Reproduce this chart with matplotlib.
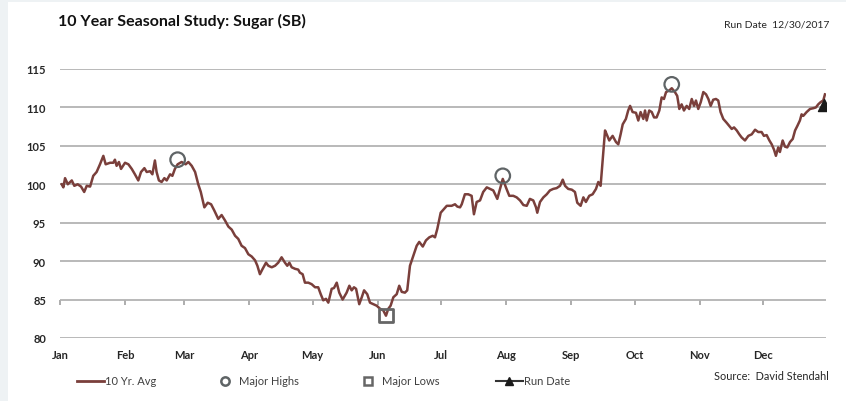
import matplotlib
matplotlib.use("Agg")
import matplotlib.pyplot as plt
from matplotlib.lines import Line2D
from matplotlib.patches import Rectangle

plt.rcParams["font.family"] = ["Lato", "DejaVu Sans"]

# 10 year seasonal average for sugar, day of year vs index value
day = [0.8, 1.6, 2.4, 3.7, 5.6, 6.8, 8.4, 10.0, 11.5, 12.7, 14.3, 15.8, 17.4, 19.0, 20.6,
       21.7, 23.8, 25.3, 26.1, 26.9, 28.0, 29.0, 30.9, 32.5, 34.1, 35.6, 37.2, 38.5, 40.1,
       41.2, 42.8, 43.9, 45.1, 45.9, 47.0, 48.3, 49.6, 50.7, 52.3, 53.4, 54.6, 55.9, 57.8,
       59.7, 61.0, 62.6, 64.2, 65.7, 66.9, 68.6, 70.2, 71.8, 73.3, 75.2, 76.8, 78.4, 80.0,
       81.6, 83.2, 84.7, 86.3, 87.9, 89.5, 91.1, 92.7, 93.8, 95.0, 96.3, 97.9, 99.0, 100.6,
       102.2, 103.7, 105.3, 106.9, 108.0, 109.0, 110.1, 111.7, 113.2, 114.0, 115.3, 116.4,
       118.0, 119.6, 121.2, 122.7, 123.9, 125.1, 126.4, 127.5, 129.1, 130.2, 131.5, 132.7,
       134.3, 136.2, 137.5, 138.6, 139.7, 140.7, 142.2, 143.4, 144.5, 146.0, 147.3, 148.9,
       150.5, 152.1, 153.6, 154.9, 156.0, 157.1, 158.4, 160.0, 161.2, 162.4, 163.9, 165.0,
       166.3, 167.9, 169.5, 170.7, 172.4, 173.9, 175.5, 177.1, 178.2, 179.3, 180.9, 182.5,
       183.8, 186.1, 187.7, 188.8, 190.1, 190.9, 192.4, 194.0, 195.6, 196.7, 198.0, 199.6,
       201.1, 202.8, 204.3, 205.9, 207.8, 209.1, 210.4, 211.9, 213.5, 215.4, 217.0, 218.6,
       220.2, 221.8, 223.3, 224.9, 226.2, 226.8, 228.1, 229.7, 231.3, 232.8, 234.4, 236.0,
       237.6, 238.9, 240.0, 241.5, 243.2, 244.7, 245.8, 247.4, 248.7, 249.9, 251.5, 253.1,
       254.7, 255.8, 256.9, 257.9, 259.0, 259.8, 261.0, 262.6, 264.2, 265.3, 266.4, 267.4,
       268.9, 270.0, 270.9, 272.1, 273.7, 274.8, 275.9, 277.2, 278.0, 278.8, 280.0, 281.2,
       282.3, 283.5, 284.8, 285.9, 287.0, 288.0, 289.5, 290.7, 292.2, 293.3, 294.3, 295.4,
       296.5, 297.8, 299.0, 300.2, 301.3, 302.2, 303.3, 304.5, 305.7, 307.0, 308.1, 309.2,
       310.4, 311.7, 312.8, 313.9, 315.2, 316.8, 318.0, 319.2, 320.3, 321.6, 322.8, 323.9,
       325.5, 327.1, 328.7, 330.3, 331.8, 333.4, 334.5, 335.8, 337.1, 338.2, 339.3, 340.2,
       341.3, 342.1, 343.4, 344.5, 345.6, 346.9, 348.2, 349.3, 350.4, 351.6, 352.4, 353.2,
       354.8, 356.4, 358.0, 359.2, 360.3, 361.5, 362.7, 363.5]
avg = [100.0, 99.6, 100.8, 100.0, 100.5, 99.8, 100.0, 99.7, 99.0, 99.8, 99.7, 101.1, 101.6,
       102.6, 103.7, 102.6, 102.8, 102.8, 103.2, 102.4, 102.9, 102.0, 102.8, 102.6, 102.0,
       101.3, 100.5, 101.6, 102.1, 101.6, 101.7, 101.3, 103.1, 101.6, 100.5, 100.3, 100.8,
       100.5, 101.3, 101.1, 102.0, 102.6, 102.9, 102.6, 102.9, 102.4, 101.6, 100.0, 99.0,
       97.0, 97.6, 97.4, 96.6, 95.5, 96.0, 95.3, 94.5, 94.1, 93.3, 92.9, 92.0, 91.7, 90.9,
       90.6, 90.1, 89.4, 88.3, 89.0, 89.8, 89.4, 89.2, 89.4, 89.8, 90.5, 89.8, 89.4, 89.8,
       89.2, 89.0, 88.9, 88.5, 88.3, 87.2, 87.2, 87.0, 86.6, 86.6, 85.7, 84.9, 85.1, 84.6,
       86.4, 86.5, 87.2, 85.9, 85.0, 85.9, 86.8, 86.2, 86.6, 86.4, 84.4, 85.3, 86.2, 85.7,
       84.6, 84.4, 84.2, 83.8, 83.6, 82.9, 83.8, 84.2, 85.3, 85.7, 86.8, 86.0, 85.9, 86.2,
       89.4, 90.7, 92.0, 92.5, 91.9, 92.7, 93.1, 93.3, 93.1, 94.2, 96.3, 96.8, 97.2, 97.2,
       97.4, 97.1, 97.0, 97.4, 98.7, 98.7, 98.5, 96.1, 97.7, 97.9, 99.0, 99.6, 99.4, 99.2,
       98.1, 99.4, 100.7, 99.6, 98.5, 98.5, 98.3, 97.9, 97.3, 97.2, 98.1, 97.9, 97.0, 96.3,
       97.7, 98.3, 98.7, 99.2, 99.4, 99.5, 99.8, 100.6, 99.8, 99.4, 99.3, 99.0, 97.6, 97.2,
       98.3, 97.7, 98.5, 98.7, 99.4, 100.3, 99.8, 103.3, 107.0, 106.5, 105.7, 106.3, 105.5,
       105.2, 106.5, 107.8, 108.5, 109.6, 110.2, 109.4, 109.3, 108.3, 109.4, 108.5, 109.6,
       108.3, 109.6, 109.4, 108.7, 108.7, 109.6, 111.3, 111.1, 112.0, 112.2, 112.5, 112.0,
       111.5, 109.8, 110.4, 109.6, 110.2, 109.8, 111.1, 110.2, 110.9, 109.8, 110.7, 112.0,
       111.7, 111.1, 110.2, 111.0, 111.1, 110.9, 109.4, 108.5, 108.0, 107.6, 107.2, 107.4,
       107.0, 106.5, 106.1, 105.7, 106.3, 106.5, 107.1, 106.8, 106.8, 106.3, 106.4, 105.7,
       105.2, 104.5, 103.7, 104.8, 104.2, 105.7, 104.9, 104.8, 105.5, 105.9, 107.0, 107.6,
       108.3, 109.1, 108.9, 109.4, 109.8, 109.9, 110.0, 110.4, 110.7, 110.9, 111.7]

high_day = [55.9, 210.4, 290.7]
high_val = [103.2, 101.1, 113.0]
low_day = [154.9]
low_val = [82.9]
run_day = [363]
run_val = [110.3]

month_start = [0, 31, 59, 90, 120, 151, 181, 212, 243, 273, 304, 334]
month_names = ["Jan", "Feb", "Mar", "Apr", "May", "Jun",
               "Jul", "Aug", "Sep", "Oct", "Nov", "Dec"]
y_ticks = [80, 85, 90, 95, 100, 105, 110, 115]

LINE = "#7a3f3b"
GRID = "#b3b3b3"
TXT = "#262626"

W, H = 846, 402
fig = plt.figure(figsize=(W / 100, H / 100), dpi=100)
fig.patch.set_facecolor("#eef2f4")
fig.add_artist(Rectangle((8 / W, 0), 1, 1 - 3 / H, transform=fig.transFigure,
                         facecolor="white", edgecolor="none", zorder=-5))

ax = fig.add_axes([60 / W, 1 - 339 / H, 766 / W, 269 / H])
ax.set_xlim(0, 364)
ax.set_ylim(80, 115)
for s in ax.spines.values():
    s.set_visible(False)

ax.set_yticks(y_ticks)
ax.yaxis.grid(True, color=GRID, linewidth=1.3)
ax.set_axisbelow(True)
ax.tick_params(axis="y", length=0, pad=10, labelsize=8, labelcolor=TXT)
for lab in ax.get_yticklabels():
    lab.set_fontweight("bold")

ax.set_xticks(month_start)
ax.set_xticklabels(month_names, fontweight="bold")
ax.tick_params(axis="x", length=0, pad=8, labelsize=8, labelcolor=TXT)

# short tick marks sit on the 85 line, Excel style
sec = ax.secondary_xaxis((85 - 80) / 35)
sec.set_xticks(month_start)
sec.set_xticklabels([])
sec.tick_params(axis="x", direction="out", length=3.5, width=1.2, color="#a0a0a0")
sec.spines["bottom"].set_visible(False)

ax.plot(day, avg, color=LINE, linewidth=1.8, zorder=3)
ax.scatter(high_day, high_val, s=110, facecolors="none", edgecolors="#5f6466",
           linewidths=1.6, zorder=4)
ax.scatter(low_day, low_val, s=95, marker="s", facecolors="none", edgecolors="#666666",
           linewidths=2.0, zorder=4)
ax.scatter(run_day, run_val, s=75, marker="^", color="#1a1a1a", zorder=5)

fig.text(58 / W, 1 - 21 / H, "10 Year Seasonal Study: Sugar (SB)", fontsize=11.5,
         fontweight="bold", color="#111111", va="center", ha="left")
fig.text(829 / W, 1 - 25 / H, "Run Date  12/30/2017", fontsize=7.5, color=TXT,
         va="center", ha="right")
fig.text(829 / W, 1 - 377 / H, "Source:  David Stendahl", fontsize=7.8, color=TXT,
         va="center", ha="right")

# legend entries, spaced like the original footer
entries = [
    (Line2D([], [], color=LINE, linewidth=2), "10 Yr. Avg", 77, 2.4, 0.1),
    (Line2D([], [], linestyle="none", marker="o", markersize=6, markerfacecolor="none",
            markeredgecolor="#5f6466", markeredgewidth=1.8), "Major Highs", 216, 1.6, 0.5),
    (Line2D([], [], linestyle="none", marker="s", markersize=5.5, markerfacecolor="none",
            markeredgecolor="#666666", markeredgewidth=1.8), "Major Lows", 359, 1.6, 0.5),
    (Line2D([], [], color="#333333", linewidth=1.5, marker="^", markersize=6,
            markerfacecolor="#1a1a1a", markeredgecolor="#1a1a1a"), "Run Date", 496, 2.4, 0.1),
]
for handle, label, x0, hl, tp in entries:
    fig.legend(handles=[handle], labels=[label], loc="center left",
               bbox_to_anchor=(x0 / W, 1 - 382 / H), frameon=False, fontsize=8,
               handlelength=hl, handletextpad=tp, borderpad=0, borderaxespad=0,
               labelcolor="#404040")

fig.savefig("out.png", dpi=100)
